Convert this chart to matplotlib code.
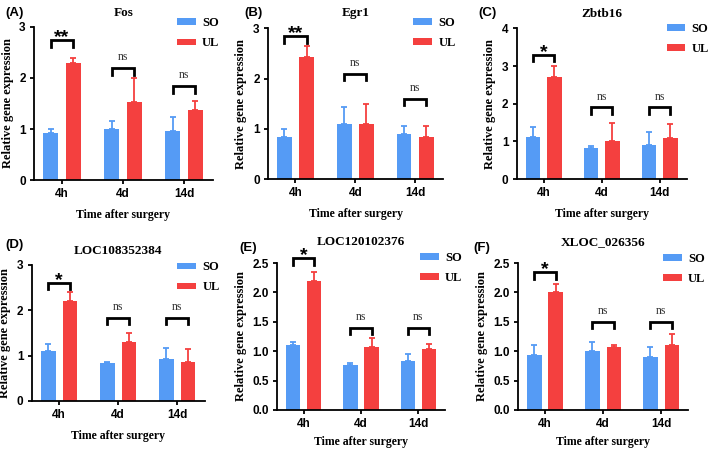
import numpy as np
import matplotlib.pyplot as plt

times = ["4h", "4d", "14d"]
genes = ["Fos", "Egr1", "Zbtb16", "LOC108352384", "LOC120102376", "XLOC_026356"]
panel_tags = ["(A)", "(B)", "(C)", "(D)", "(E)", "(F)"]

so_mean = [[0.93, 1.00, 0.97], [0.83, 1.09, 0.90], [1.13, 0.83, 0.90],
           [1.10, 0.83, 0.93], [1.10, 0.77, 0.83], [0.93, 1.00, 0.90]]
so_err = [[0.07, 0.15, 0.27], [0.17, 0.34, 0.15], [0.25, 0.04, 0.35],
          [0.16, 0.04, 0.23], [0.05, 0.03, 0.12], [0.18, 0.15, 0.17]]
ul_mean = [[2.30, 1.53, 1.37], [2.43, 1.10, 0.83], [2.72, 1.00, 1.10],
           [2.20, 1.30, 0.87], [2.20, 1.07, 1.03], [2.00, 1.07, 1.10]]
ul_err = [[0.10, 0.47, 0.18], [0.22, 0.40, 0.22], [0.28, 0.50, 0.36],
          [0.20, 0.20, 0.27], [0.15, 0.15, 0.09], [0.15, 0.04, 0.20]]
sig = [["**", "ns", "ns"], ["**", "ns", "ns"], ["*", "ns", "ns"],
       ["*", "ns", "ns"], ["*", "ns", "ns"], ["*", "ns", "ns"]]
bracket_y = [[2.75, 2.2, 1.85], [2.85, 2.1, 1.6], [3.3, 1.9, 1.9],
             [2.6, 1.84, 1.84], [2.58, 1.40, 1.40], [2.35, 1.50, 1.50]]
ymax = [3, 3, 4, 3, 2.5, 2.5]
yticks = [[0, 1, 2, 3], [0, 1, 2, 3], [0, 1, 2, 3, 4], [0, 1, 2, 3],
          [0, 0.5, 1.0, 1.5, 2.0, 2.5], [0, 0.5, 1.0, 1.5, 2.0, 2.5]]

# layout: axes boxes in figure fractions, legend anchors, title pads
boxes = [[0.048, 0.599, 0.252, 0.341], [0.378, 0.601, 0.247, 0.336],
         [0.729, 0.601, 0.240, 0.336], [0.045, 0.107, 0.244, 0.303],
         [0.391, 0.087, 0.237, 0.327], [0.731, 0.087, 0.240, 0.327]]
legend_at = [(0.80, 1.063), (0.83, 1.076), (0.88, 1.036),
             (0.84, 1.026), (0.85, 1.078), (0.85, 1.07)]
title_pad = [8, 9, 8, 8, 13, 13]
xlabel_pad = [6, 6, 6, 6, 4, 4]
tag_pos = [(0.008, 0.97), (0.345, 0.972), (0.675, 0.97),
           (0.008, 0.455), (0.337, 0.447), (0.668, 0.447)]

blue = "#559BF5"
red = "#F4403F"
serif = "Liberation Serif"
sans = "Liberation Sans"

fig = plt.figure(figsize=(7.09, 4.49), dpi=100)

x = np.arange(len(times))
w = 0.25
off = 0.185
for i in range(6):
    ax = fig.add_axes(boxes[i])
    ax.bar(x - off, so_mean[i], w, color=blue, label="SO")
    ax.bar(x + off, ul_mean[i], w, color=red, label="UL")
    ax.errorbar(x - off, so_mean[i], yerr=[np.zeros(3), so_err[i]], fmt="none",
                ecolor=blue, elinewidth=1.3, capsize=2.5, capthick=1.3)
    ax.errorbar(x + off, ul_mean[i], yerr=[np.zeros(3), ul_err[i]], fmt="none",
                ecolor=red, elinewidth=1.3, capsize=2.5, capthick=1.3)
    ax.set_xlim(-0.46, 2.47)
    ax.set_ylim(0, ymax[i])
    ax.set_yticks(yticks[i])
    if ymax[i] == 2.5:
        ax.set_yticklabels(["%.1f" % t for t in yticks[i]])
    ax.set_xticks(x)
    ax.set_xticklabels(times)
    for lab in ax.get_xticklabels() + ax.get_yticklabels():
        lab.set_fontfamily(sans)
        lab.set_fontweight("bold")
        lab.set_fontsize(8.5)
    ax.tick_params(width=1.3, length=3, pad=3)
    ax.spines["top"].set_visible(False)
    ax.spines["right"].set_visible(False)
    ax.spines["left"].set_linewidth(1.3)
    ax.spines["bottom"].set_linewidth(1.3)
    ax.set_ylabel("Relative gene expression", fontfamily=serif, fontweight="bold", fontsize=9)
    ax.set_xlabel("Time after surgery", fontfamily=serif, fontweight="bold", fontsize=8.5,
                  labelpad=xlabel_pad[i])
    ax.set_title(genes[i], fontfamily=serif, fontweight="bold", fontsize=9.5, pad=title_pad[i])

    # significance brackets
    yr = ymax[i]
    for j in range(3):
        yb = bracket_y[i][j]
        leg = 0.045 * yr
        ax.plot([j - off, j - off, j + off, j + off], [yb - leg, yb, yb, yb - leg],
                color="black", lw=2, clip_on=False, solid_joinstyle="miter")
        if sig[i][j] == "ns":
            ax.annotate("ns", xy=(j, yb), xytext=(0, 5.5), textcoords="offset points",
                        ha="center", va="baseline", fontfamily=serif, fontsize=8.5,
                        color="#333333", annotation_clip=False)
        else:
            ax.annotate(sig[i][j], xy=(j, yb), xytext=(0, -1.5), textcoords="offset points",
                        ha="center", va="baseline", fontfamily=sans, fontweight="bold",
                        fontsize=14, annotation_clip=False)

    ax.legend(loc="upper left", bbox_to_anchor=legend_at[i], frameon=False,
              prop={"family": serif, "weight": "bold", "size": 9},
              borderpad=0, borderaxespad=0, handlelength=1.5, handleheight=0.45,
              labelspacing=0.65, handletextpad=0.5)

    fig.text(tag_pos[i][0], tag_pos[i][1], panel_tags[i], fontfamily=sans,
             fontweight="bold", fontsize=9.5, va="center")

fig.savefig("out.png", dpi=100)
